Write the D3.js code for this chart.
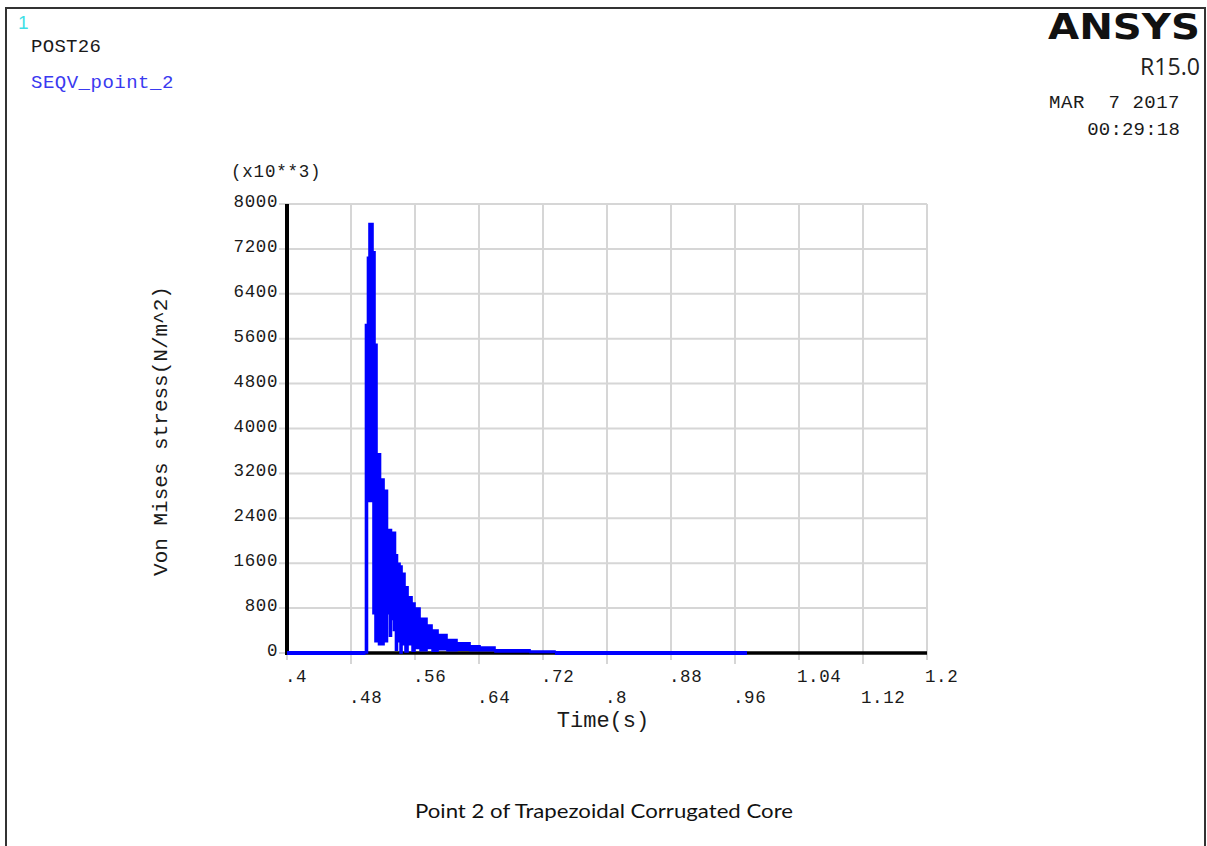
<!DOCTYPE html>
<html>
<head>
<meta charset="utf-8">
<script src="https://cdn.jsdelivr.net/npm/d3@7"></script>
<style>
  html, body { margin: 0; padding: 0; background: #fff; }
  svg { display: block; }
  .mono { font-family: "Liberation Mono", "DejaVu Sans Mono", monospace; }
</style>
</head>
<body>
<svg id="chart" width="1207" height="846"></svg>
<script>
// time (s) where each step of the min/max band starts
const timeS = [0.4, 0.4981, 0.5006, 0.5025, 0.5075, 0.51, 0.5125, 0.5144, 0.5169, 0.5188,
  0.5213, 0.5231, 0.5256, 0.5281, 0.5306, 0.5331, 0.5356, 0.5381, 0.5413, 0.5438,
  0.5475, 0.5513, 0.5563, 0.56, 0.5663, 0.575, 0.5813, 0.5888, 0.60, 0.6125,
  0.6288, 0.6413, 0.66, 0.7038, 0.735]
// upper / lower value of the oscillating SEQV signal (N/m^2, x10**3)
const upperV = [0, 5850, 7050, 7650, 7150, 5500, 3550, 3550, 3100, 3100,
  2900, 2900, 2200, 2200, 2150, 2150, 1750, 1600, 1550, 1420,
  1180, 1000, 890, 800, 620, 500, 410, 330, 240, 180,
  130, 105, 55, 35, 0]
const lowerV = [0, 0, 2700, 2700, 700, 200, 500, 150, 550, 150,
  600, 200, 700, 300, 600, 400, 50, 200, 0, 150,
  20, 150, 30, 80, 40, 80, 30, 60, 40, 50,
  40, 40, 20, 10, 0]
// flat parts of the curve at zero
const flatStart = [0.4, 0.4981]
const flatEnd = [0.735, 0.975]

const xTicks = [0.4, 0.48, 0.56, 0.64, 0.72, 0.8, 0.88, 0.96, 1.04, 1.12, 1.2]
const xTickLabels = ['.4', '.48', '.56', '.64', '.72', '.8', '.88', '.96', '1.04', '1.12', '1.2']
const yTicks = [0, 800, 1600, 2400, 3200, 4000, 4800, 5600, 6400, 7200, 8000]

const svg = d3.select('#chart')

const dims = { left: 287, right: 927, top: 204, bottom: 653 }

const x = d3.scaleLinear().domain([0.4, 1.2]).range([dims.left, dims.right])
const y = d3.scaleLinear().domain([0, 8000]).range([dims.bottom, dims.top])

// page frame
svg.append('path')
  .attr('d', 'M6,846 V8 H1205 V846')
  .attr('fill', 'none')
  .attr('stroke', '#333')
  .attr('stroke-width', 2)

// header texts
svg.append('text')
  .attr('x', 18).attr('y', 29)
  .attr('font-family', '"Liberation Sans", Arial, sans-serif')
  .attr('font-size', 19)
  .attr('fill', '#3fdfe6')
  .text('1')

svg.append('text').attr('class', 'mono')
  .attr('x', 31).attr('y', 52)
  .attr('font-size', 19).attr('letter-spacing', 0.3)
  .attr('fill', '#1a1a1a')
  .text('POST26')

svg.append('text').attr('class', 'mono')
  .attr('x', 31).attr('y', 88)
  .attr('font-size', 19).attr('letter-spacing', 0.5)
  .attr('fill', '#3a3af0')
  .text('SEQV_point_2')

svg.append('text')
  .attr('x', 1200).attr('y', 39)
  .attr('text-anchor', 'end')
  .attr('font-family', '"DejaVu Sans", sans-serif')
  .attr('font-weight', 'bold')
  .attr('font-size', 36)
  .attr('textLength', 152).attr('lengthAdjust', 'spacingAndGlyphs')
  .attr('fill', '#111')
  .text('ANSYS')

svg.append('text')
  .attr('x', 1200).attr('y', 75)
  .attr('text-anchor', 'end')
  .attr('font-family', '"Open Sans", sans-serif')
  .attr('font-size', 24)
  .attr('textLength', 60).attr('lengthAdjust', 'spacingAndGlyphs')
  .attr('fill', '#222')
  .text('R15.0')

svg.append('text').attr('class', 'mono')
  .attr('x', 1180).attr('y', 108)
  .attr('text-anchor', 'end')
  .attr('font-size', 19).attr('letter-spacing', 0.5)
  .attr('fill', '#1a1a1a')
  .style('white-space', 'pre')
  .text('MAR  7 2017')

svg.append('text').attr('class', 'mono')
  .attr('x', 1180).attr('y', 135)
  .attr('text-anchor', 'end')
  .attr('font-size', 19).attr('letter-spacing', 0.2)
  .attr('fill', '#1a1a1a')
  .text('00:29:18')

// grid
const grid = svg.append('g')

grid.selectAll('.hgrid')
  .data(yTicks)
  .enter().append('line')
  .attr('class', 'hgrid')
  .attr('x1', dims.left - 8).attr('x2', dims.right)
  .attr('y1', d => y(d)).attr('y2', d => y(d))
  .attr('stroke', '#d6d6d6')
  .attr('stroke-width', 2)

grid.selectAll('.vgrid')
  .data(xTicks)
  .enter().append('line')
  .attr('class', 'vgrid')
  .attr('x1', d => x(d)).attr('x2', d => x(d))
  .attr('y1', dims.top)
  .attr('y2', (d, i) => dims.bottom + (i % 2 ? 11 : 7))
  .attr('stroke', '#d6d6d6')
  .attr('stroke-width', 2)

// axes
svg.append('line')
  .attr('x1', dims.left).attr('x2', dims.left)
  .attr('y1', dims.top).attr('y2', dims.bottom + 2)
  .attr('stroke', '#000').attr('stroke-width', 4)

svg.append('line')
  .attr('x1', dims.left).attr('x2', dims.right)
  .attr('y1', dims.bottom).attr('y2', dims.bottom)
  .attr('stroke', '#000').attr('stroke-width', 3.5)

// tick labels
svg.selectAll('.ylab')
  .data(yTicks)
  .enter().append('text')
  .attr('class', 'mono ylab')
  .attr('x', 278)
  .attr('y', d => y(d) + 3)
  .attr('text-anchor', 'end')
  .attr('font-size', 17.5).attr('letter-spacing', 0.6)
  .attr('fill', '#1a1a1a')
  .text(d => d)

svg.selectAll('.xlab')
  .data(xTicks)
  .enter().append('text')
  .attr('class', 'mono xlab')
  .attr('x', d => x(d) - 2)
  .attr('y', (d, i) => i % 2 ? 703 : 682)
  .attr('font-size', 17.5).attr('letter-spacing', 0.6)
  .attr('fill', '#1a1a1a')
  .text((d, i) => xTickLabels[i])

svg.append('text').attr('class', 'mono')
  .attr('x', 231).attr('y', 177)
  .attr('font-size', 17.5).attr('letter-spacing', 0.8)
  .attr('fill', '#1a1a1a')
  .text('(x10**3)')

// axis titles
svg.append('text').attr('class', 'mono')
  .attr('transform', 'translate(167,431) rotate(-90)')
  .attr('text-anchor', 'middle')
  .attr('font-size', 21)
  .attr('fill', '#1a1a1a')
  .text('Von Mises stress(N/m^2)')

svg.append('text').attr('class', 'mono')
  .attr('x', 603).attr('y', 727)
  .attr('text-anchor', 'middle')
  .attr('font-size', 22)
  .attr('fill', '#1a1a1a')
  .text('Time(s)')

// signal
const series = timeS.map((t, i) => ({ t: t, hi: upperV[i], lo: lowerV[i] }))

const band = d3.area()
  .x(d => x(d.t))
  .y0(d => y(d.lo))
  .y1(d => y(d.hi))
  .curve(d3.curveStepAfter)

svg.append('path')
  .datum(series)
  .attr('d', band)
  .attr('fill', '#0000ff')
  .attr('stroke', '#0000ff')
  .attr('stroke-width', 1.6)

const flatLine = d3.line()
  .x(d => x(d))
  .y(() => y(0))

svg.selectAll('.flat')
  .data([flatStart, flatEnd])
  .enter().append('path')
  .attr('class', 'flat')
  .attr('d', flatLine)
  .attr('fill', 'none')
  .attr('stroke', '#0000ff')
  .attr('stroke-width', 4)

// caption
svg.append('text')
  .attr('x', 415).attr('y', 818)
  .attr('font-family', 'Lato, "Open Sans", sans-serif')
  .attr('font-size', 19)
  .attr('textLength', 378).attr('lengthAdjust', 'spacingAndGlyphs')
  .attr('fill', '#111')
  .text('Point 2 of Trapezoidal Corrugated Core')
</script>
</body>
</html>
